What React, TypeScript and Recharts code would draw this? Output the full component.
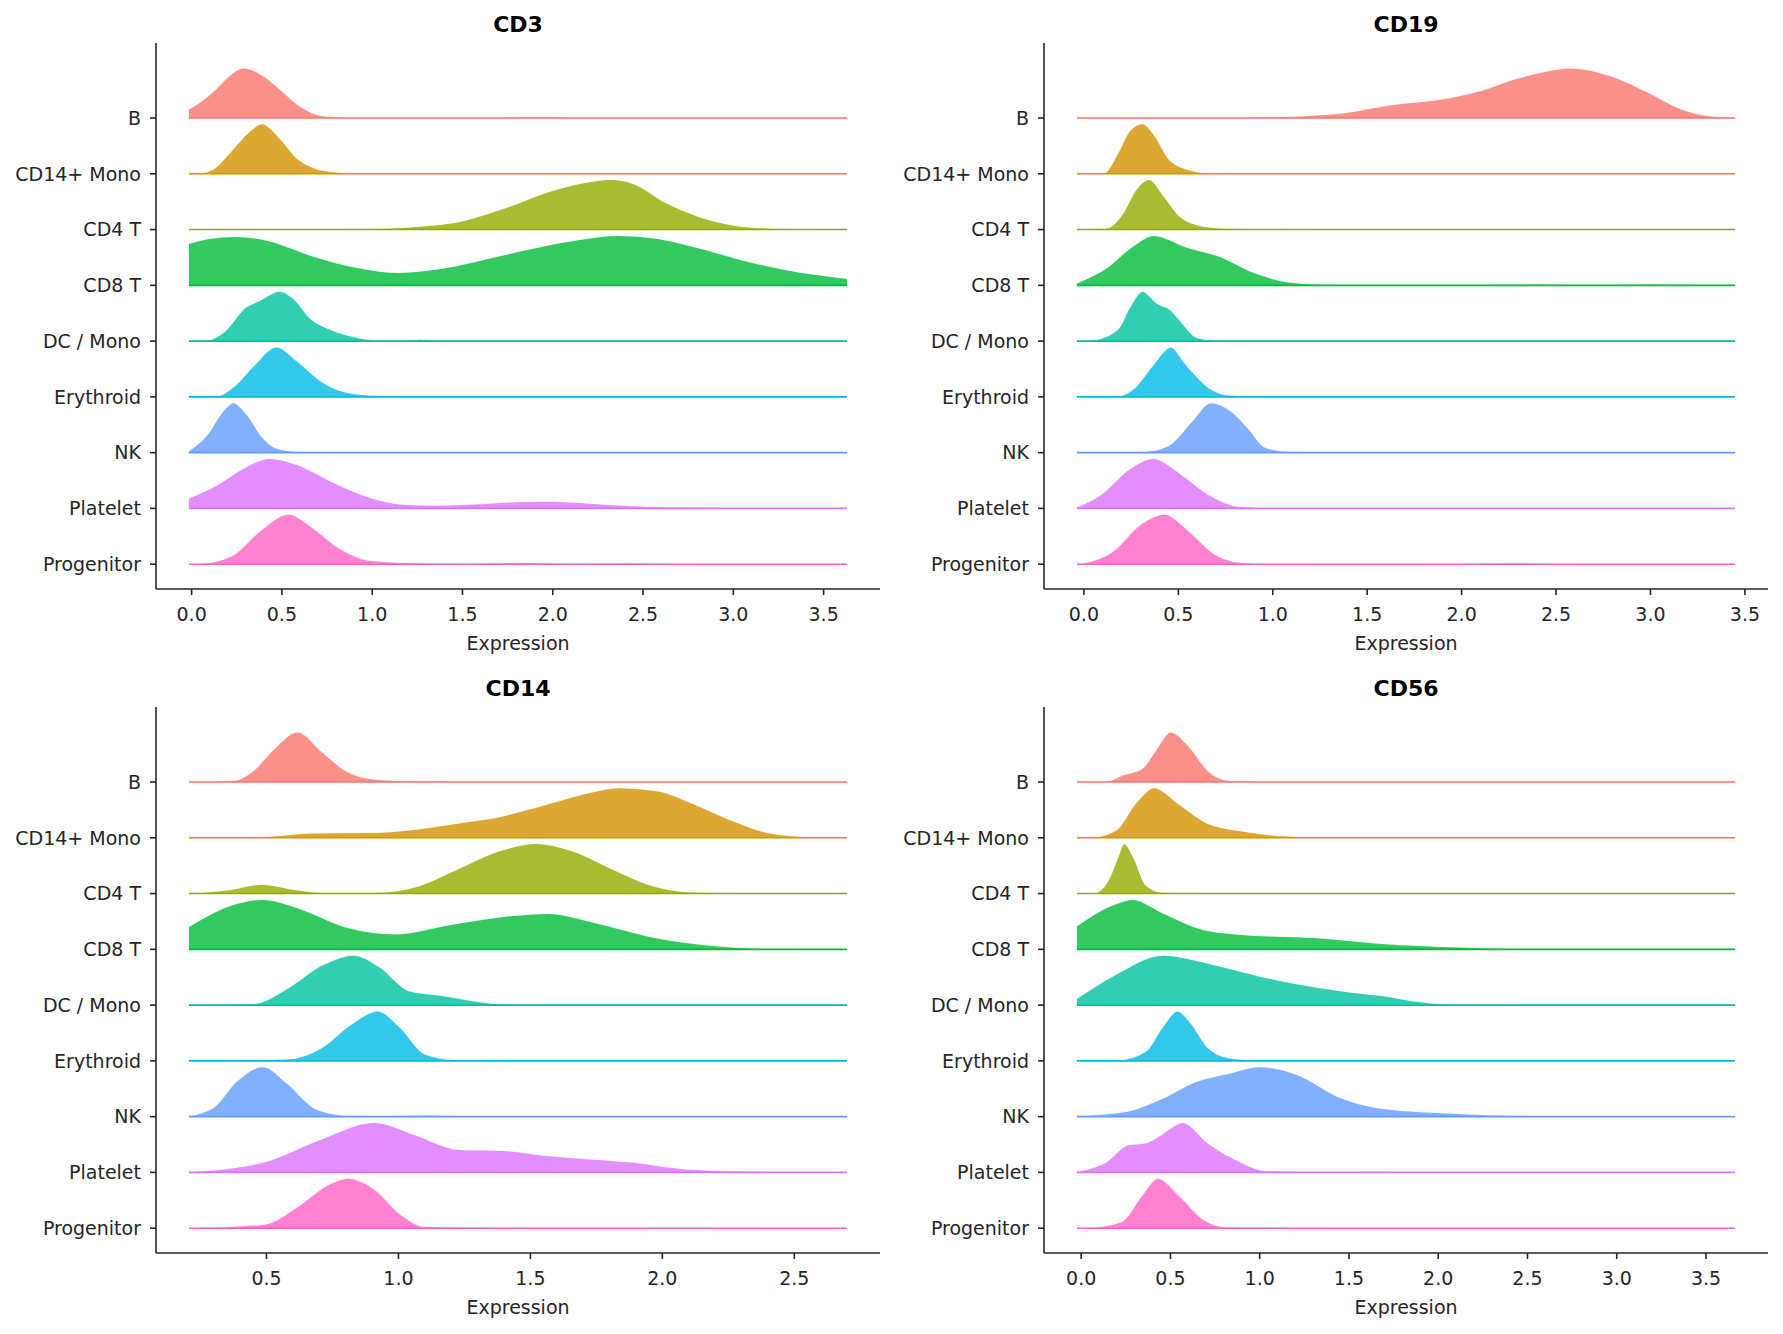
import React from 'react';
import { ComposedChart, Area, XAxis, YAxis, ReferenceLine, Label } from 'recharts';

type Pt = [number, number];

// Cell types, top ridge first
const CELL_TYPES = ['B', 'CD14+ Mono', 'CD4 T', 'CD8 T', 'DC / Mono', 'Erythroid', 'NK', 'Platelet', 'Progenitor'];
const COLORS = ['#F8766D', '#D39200', '#93AA00', '#00BA38', '#00C19F', '#00B9E3', '#619CFF', '#DB72FB', '#FF61C3'];

const TICKS_0_35 = [0, 0.5, 1, 1.5, 2, 2.5, 3, 3.5];
const TICKS_05_25 = [0.5, 1, 1.5, 2, 2.5];

// Normalised density knots [expression, relative height] per cell type (same order as CELL_TYPES)
const CD3_DENSITY: Pt[][] = [
  [[-0.015, 0.18], [0.05, 0.33], [0.125, 0.55], [0.2, 0.82], [0.287, 1.0], [0.4, 0.84], [0.49, 0.58], [0.585, 0.28], [0.68, 0.09], [0.77, 0.035], [0.9, 0.015], [1.2, 0.01], [1.5, 0.012], [1.9, 0.025], [2.2, 0.012], [2.8, 0.005], [3.63, 0.005]],
  [[-0.015, 0.005], [0.05, 0.02], [0.125, 0.11], [0.217, 0.45], [0.309, 0.81], [0.39, 1.0], [0.49, 0.71], [0.585, 0.31], [0.68, 0.12], [0.77, 0.05], [0.9, 0.018], [1.2, 0.01], [3.63, 0.01]],
  [[-0.015, 0.01], [0.8, 0.01], [1.1, 0.03], [1.3, 0.08], [1.48, 0.16], [1.73, 0.43], [1.99, 0.77], [2.15, 0.92], [2.32, 1.0], [2.46, 0.9], [2.62, 0.55], [2.81, 0.26], [3.0, 0.09], [3.16, 0.035], [3.35, 0.015], [3.63, 0.01]],
  [[-0.015, 0.84], [0.1, 0.94], [0.241, 0.98], [0.421, 0.9], [0.66, 0.6], [0.9, 0.37], [1.14, 0.26], [1.38, 0.34], [1.62, 0.52], [1.86, 0.72], [2.1, 0.89], [2.36, 1.0], [2.58, 0.94], [2.82, 0.74], [3.06, 0.5], [3.3, 0.31], [3.63, 0.14]],
  [[-0.015, 0.005], [0.086, 0.02], [0.18, 0.19], [0.3, 0.68], [0.37, 0.8], [0.488, 1.0], [0.565, 0.85], [0.66, 0.45], [0.78, 0.22], [0.9, 0.09], [1.02, 0.02], [1.16, 0.012], [1.26, 0.04], [1.38, 0.01], [1.6, 0.005], [3.63, 0.005]],
  [[-0.015, 0.005], [0.15, 0.03], [0.24, 0.23], [0.34, 0.61], [0.47, 1.0], [0.59, 0.7], [0.72, 0.31], [0.85, 0.1], [1.0, 0.035], [1.2, 0.015], [1.5, 0.015], [2.5, 0.015], [3.63, 0.01]],
  [[-0.015, 0.04], [0.086, 0.36], [0.165, 0.79], [0.23, 1.0], [0.31, 0.75], [0.39, 0.32], [0.47, 0.09], [0.59, 0.025], [0.8, 0.01], [3.63, 0.01]],
  [[-0.015, 0.21], [0.15, 0.49], [0.28, 0.79], [0.43, 1.0], [0.59, 0.87], [0.78, 0.53], [0.97, 0.24], [1.16, 0.09], [1.35, 0.07], [1.55, 0.09], [1.8, 0.14], [1.99, 0.15], [2.27, 0.09], [2.59, 0.04], [3.07, 0.02], [3.63, 0.01]],
  [[-0.015, 0.005], [0.086, 0.03], [0.24, 0.21], [0.37, 0.64], [0.54, 1.0], [0.66, 0.76], [0.81, 0.34], [0.97, 0.09], [1.16, 0.04], [1.5, 0.02], [1.86, 0.04], [2.1, 0.02], [2.43, 0.03], [2.8, 0.01], [3.63, 0.01]],
];

const CD19_DENSITY: Pt[][] = [
  [[-0.037, 0.01], [0.8, 0.015], [1.08, 0.035], [1.38, 0.11], [1.63, 0.27], [1.87, 0.37], [2.08, 0.53], [2.29, 0.79], [2.5, 0.97], [2.57, 1.0], [2.8, 0.83], [2.98, 0.53], [3.16, 0.19], [3.31, 0.05], [3.448, 0.02]],
  [[-0.037, 0.005], [0.105, 0.02], [0.18, 0.42], [0.24, 0.85], [0.31, 1.0], [0.376, 0.76], [0.45, 0.3], [0.54, 0.1], [0.66, 0.025], [1.0, 0.01], [3.448, 0.01]],
  [[-0.037, 0.01], [0.12, 0.03], [0.21, 0.35], [0.27, 0.77], [0.346, 1.0], [0.42, 0.69], [0.51, 0.26], [0.63, 0.07], [0.78, 0.02], [1.5, 0.01], [3.448, 0.01]],
  [[-0.037, 0.05], [0.12, 0.35], [0.24, 0.73], [0.37, 1.0], [0.54, 0.77], [0.72, 0.58], [0.9, 0.26], [1.08, 0.07], [1.26, 0.02], [2.0, 0.012], [2.4, 0.025], [2.7, 0.012], [3.0, 0.025], [3.448, 0.01]],
  [[-0.037, 0.0], [0.06, 0.03], [0.18, 0.24], [0.24, 0.66], [0.31, 1.0], [0.39, 0.75], [0.46, 0.62], [0.51, 0.41], [0.6, 0.07], [0.69, 0.02], [1.0, 0.005], [3.448, 0.005]],
  [[-0.037, 0.005], [0.18, 0.02], [0.27, 0.19], [0.36, 0.61], [0.46, 1.0], [0.54, 0.65], [0.66, 0.19], [0.78, 0.035], [1.0, 0.015], [1.8, 0.015], [3.448, 0.01]],
  [[-0.037, 0.01], [0.33, 0.03], [0.45, 0.15], [0.57, 0.62], [0.67, 1.0], [0.78, 0.83], [0.87, 0.49], [0.96, 0.11], [1.08, 0.03], [1.5, 0.01], [3.448, 0.01]],
  [[-0.037, 0.03], [0.09, 0.28], [0.24, 0.79], [0.37, 1.0], [0.51, 0.7], [0.66, 0.28], [0.81, 0.05], [1.0, 0.015], [1.6, 0.01], [2.3, 0.02], [3.448, 0.005]],
  [[-0.037, 0.01], [0.0, 0.03], [0.15, 0.25], [0.3, 0.8], [0.43, 1.0], [0.54, 0.72], [0.69, 0.21], [0.84, 0.035], [1.0, 0.015], [1.5, 0.01], [2.0, 0.015], [2.25, 0.03], [2.6, 0.01], [3.448, 0.005]],
];

const CD14_DENSITY: Pt[][] = [
  [[0.206, 0.01], [0.3, 0.015], [0.385, 0.04], [0.45, 0.23], [0.526, 0.65], [0.617, 1.0], [0.71, 0.61], [0.8, 0.23], [0.88, 0.08], [1.01, 0.03], [1.14, 0.02], [1.5, 0.01], [2.7, 0.01]],
  [[0.206, 0.005], [0.5, 0.03], [0.67, 0.1], [0.91, 0.11], [1.06, 0.17], [1.23, 0.3], [1.38, 0.42], [1.56, 0.67], [1.73, 0.91], [1.84, 1.0], [1.99, 0.93], [2.1, 0.72], [2.25, 0.38], [2.38, 0.13], [2.53, 0.03], [2.7, 0.01]],
  [[0.206, 0.01], [0.36, 0.08], [0.48, 0.19], [0.6, 0.09], [0.71, 0.025], [0.91, 0.025], [1.06, 0.13], [1.23, 0.51], [1.38, 0.85], [1.52, 1.0], [1.66, 0.85], [1.82, 0.47], [1.95, 0.18], [2.1, 0.035], [2.3, 0.012], [2.7, 0.01]],
  [[0.206, 0.46], [0.36, 0.87], [0.49, 1.0], [0.62, 0.83], [0.8, 0.45], [0.99, 0.31], [1.19, 0.49], [1.4, 0.66], [1.57, 0.72], [1.75, 0.53], [1.97, 0.24], [2.21, 0.07], [2.4, 0.015], [2.7, 0.0]],
  [[0.206, 0.005], [0.45, 0.03], [0.58, 0.34], [0.71, 0.8], [0.83, 1.0], [0.93, 0.76], [1.04, 0.29], [1.17, 0.19], [1.27, 0.1], [1.4, 0.02], [1.8, 0.005], [2.7, 0.005]],
  [[0.206, 0.01], [0.58, 0.04], [0.71, 0.27], [0.82, 0.73], [0.92, 1.0], [1.01, 0.65], [1.1, 0.14], [1.21, 0.03], [1.6, 0.012], [2.7, 0.01]],
  [[0.206, 0.02], [0.3, 0.19], [0.385, 0.7], [0.487, 1.0], [0.58, 0.66], [0.69, 0.15], [0.8, 0.03], [0.95, 0.02], [1.1, 0.04], [1.3, 0.012], [2.7, 0.01]],
  [[0.206, 0.02], [0.49, 0.21], [0.69, 0.63], [0.91, 1.0], [1.06, 0.76], [1.23, 0.46], [1.4, 0.44], [1.56, 0.34], [1.88, 0.21], [2.1, 0.07], [2.32, 0.03], [2.7, 0.01]],
  [[0.206, 0.01], [0.49, 0.08], [0.62, 0.44], [0.73, 0.86], [0.81, 1.0], [0.91, 0.78], [1.01, 0.27], [1.1, 0.04], [1.5, 0.015], [2.1, 0.02], [2.4, 0.01], [2.7, 0.01]],
];

const CD56_DENSITY: Pt[][] = [
  [[-0.024, 0.01], [0.14, 0.02], [0.23, 0.14], [0.34, 0.27], [0.42, 0.65], [0.5, 1.0], [0.61, 0.69], [0.71, 0.23], [0.83, 0.035], [1.2, 0.01], [3.663, 0.01]],
  [[-0.024, 0.005], [0.07, 0.02], [0.2, 0.17], [0.3, 0.67], [0.41, 1.0], [0.55, 0.67], [0.71, 0.29], [0.9, 0.14], [1.15, 0.04], [1.47, 0.02], [2.0, 0.01], [3.663, 0.01]],
  [[-0.024, 0.005], [0.07, 0.01], [0.15, 0.26], [0.2, 0.68], [0.24, 1.0], [0.3, 0.68], [0.36, 0.18], [0.45, 0.03], [0.7, 0.01], [3.663, 0.01]],
  [[-0.024, 0.47], [0.14, 0.83], [0.29, 1.0], [0.45, 0.74], [0.68, 0.4], [0.9, 0.3], [1.34, 0.23], [1.72, 0.11], [2.1, 0.05], [2.52, 0.012], [3.663, 0.01]],
  [[-0.024, 0.14], [0.2, 0.63], [0.46, 1.0], [0.71, 0.84], [0.99, 0.59], [1.22, 0.42], [1.47, 0.28], [1.69, 0.19], [1.88, 0.08], [2.07, 0.015], [2.5, 0.005], [3.663, 0.005]],
  [[-0.024, 0.005], [0.2, 0.02], [0.36, 0.19], [0.45, 0.65], [0.54, 1.0], [0.61, 0.78], [0.71, 0.27], [0.83, 0.06], [1.0, 0.015], [3.663, 0.01]],
  [[-0.024, 0.02], [0.26, 0.11], [0.45, 0.36], [0.64, 0.7], [0.83, 0.87], [1.0, 1.0], [1.22, 0.83], [1.44, 0.4], [1.72, 0.15], [2.1, 0.07], [2.42, 0.03], [2.8, 0.012], [3.663, 0.01]],
  [[-0.024, 0.02], [0.14, 0.21], [0.26, 0.55], [0.36, 0.59], [0.45, 0.76], [0.57, 1.0], [0.71, 0.59], [0.87, 0.25], [1.03, 0.04], [1.4, 0.012], [1.65, 0.03], [1.9, 0.01], [3.663, 0.01]],
  [[-0.024, 0.005], [0.07, 0.02], [0.23, 0.14], [0.33, 0.61], [0.43, 1.0], [0.55, 0.65], [0.68, 0.19], [0.8, 0.035], [1.1, 0.02], [1.4, 0.01], [3.663, 0.01]],
];

const RIDGE_HEIGHT = 0.9;
const FONT = "'DejaVu Sans', sans-serif";
const INK = '#262626';
const CHART_W = 891;
const CHART_H = 667;

function RidgePanel({ curves, ticks }: { curves: Pt[][]; ticks: number[] }) {
  const n = CELL_TYPES.length;
  let xmin = Infinity;
  let xmax = -Infinity;
  curves.forEach((c) => {
    xmin = Math.min(xmin, c[0][0]);
    xmax = Math.max(xmax, c[c.length - 1][0]);
  });
  const span = xmax - xmin;
  const xDomain = [xmin - 0.05 * span, xmax + 0.05 * span];
  const yTop = n - 1 + RIDGE_HEIGHT;
  const yDomain = [-0.05 * yTop, yTop * 1.05];
  const yTicks = CELL_TYPES.map((_, i) => i);
  const tickStyle = { fill: INK, fontSize: 19, fontFamily: FONT };
  const lineStyle = { stroke: INK, strokeWidth: 1.6 };

  return (
    <ComposedChart width={CHART_W} height={CHART_H} margin={{ top: 43, right: 11, left: 6, bottom: 8 }}>
      <XAxis
        type="number"
        dataKey="x"
        domain={xDomain}
        ticks={ticks}
        allowDataOverflow
        interval={0}
        tickFormatter={(v: number) => v.toFixed(1)}
        height={70}
        tickSize={6}
        tickMargin={13}
        axisLine={lineStyle}
        tickLine={lineStyle}
        tick={tickStyle}
      >
        <Label value="Expression" position="insideBottom" offset={9} fill={INK} fontSize={19} fontFamily={FONT} />
      </XAxis>
      <YAxis
        type="number"
        domain={yDomain}
        ticks={yTicks}
        allowDataOverflow
        interval={0}
        tickFormatter={(v: number) => CELL_TYPES[n - 1 - v]}
        width={150}
        tickSize={6}
        tickMargin={9}
        axisLine={lineStyle}
        tickLine={lineStyle}
        tick={tickStyle}
      />
      {curves.map((pts, i) => {
        const base = n - 1 - i;
        return (
          <Area
            key={'a' + i}
            data={pts.map(([x, h]) => ({ x, y: base + h * RIDGE_HEIGHT }))}
            dataKey="y"
            baseValue={base}
            type="monotone"
            fill={COLORS[i]}
            fillOpacity={0.8}
            stroke="#ffffff"
            strokeWidth={1.5}
            strokeOpacity={0.9}
            dot={false}
            activeDot={false}
            isAnimationActive={false}
          />
        );
      })}
      {curves.map((pts, i) => {
        const base = n - 1 - i;
        return (
          <ReferenceLine
            key={'r' + i}
            segment={[
              { x: pts[0][0], y: base },
              { x: pts[pts.length - 1][0], y: base },
            ]}
            stroke={COLORS[i]}
            strokeWidth={1.6}
          />
        );
      })}
    </ComposedChart>
  );
}

const PANELS = [
  { title: 'CD3', curves: CD3_DENSITY, ticks: TICKS_0_35, left: 0, top: 0 },
  { title: 'CD19', curves: CD19_DENSITY, ticks: TICKS_0_35, left: 888, top: 0 },
  { title: 'CD14', curves: CD14_DENSITY, ticks: TICKS_05_25, left: 0, top: 664 },
  { title: 'CD56', curves: CD56_DENSITY, ticks: TICKS_0_35, left: 888, top: 664 },
];

export default function App() {
  return (
    <div style={{ position: 'absolute', left: 0, top: 0, width: 1783, height: 1334, background: '#ffffff', fontFamily: FONT }}>
      {PANELS.map((p) => (
        <div key={p.title} style={{ position: 'absolute', left: p.left, top: p.top, width: CHART_W, height: CHART_H }}>
          <RidgePanel curves={p.curves} ticks={p.ticks} />
        </div>
      ))}
      <svg width={1783} height={1334} style={{ position: 'absolute', left: 0, top: 0, pointerEvents: 'none' }}>
        {PANELS.map((p) => (
          <text
            key={p.title}
            x={p.left + 6 + 150 + (CHART_W - 6 - 150 - 11) / 2}
            y={p.top + 32}
            textAnchor="middle"
            fontFamily={FONT}
            fontWeight="bold"
            fontSize={22}
            fill="#000000"
          >
            {p.title}
          </text>
        ))}
      </svg>
    </div>
  );
}
